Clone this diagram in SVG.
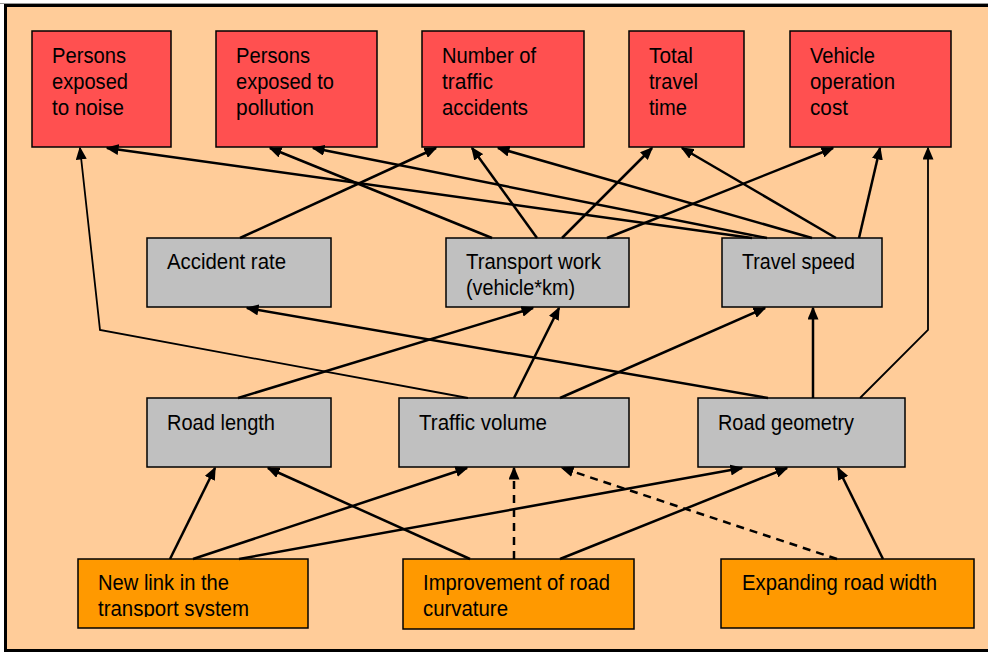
<svg xmlns="http://www.w3.org/2000/svg" width="988" height="652" viewBox="0 0 988 652">
<style>
.red{fill:#FF5050;stroke:#000;stroke-width:1.5}
.gray{fill:#C0C0C0;stroke:#000;stroke-width:1.5}
.orange{fill:#FF9900;stroke:#000;stroke-width:1.5}
text{font-family:"Liberation Sans",Arial,sans-serif;font-size:22px;fill:#000}
.c{fill:none;stroke:#000;stroke-width:2.5;marker-end:url(#ah)}
.t{fill:none;stroke:#000;stroke-width:1.8;marker-end:url(#ah)}
.d{stroke-dasharray:8 6}
</style>
<defs>
<marker id="ah" markerUnits="userSpaceOnUse" markerWidth="13" markerHeight="11" refX="11.5" refY="5.5" orient="auto">
<path d="M0,0 L13,5.5 L0,11 z" fill="#000"/>
</marker>
<clipPath id="clipNL"><rect x="78" y="559" width="230" height="58"/></clipPath>
</defs>
<rect x="0" y="0" width="988" height="652" fill="#fff"/>
<line x1="0" y1="3.5" x2="988" y2="3.5" stroke="#999" stroke-width="1"/>
<rect x="5.5" y="5.5" width="1000" height="645" fill="#FFCC99" stroke="#000" stroke-width="3"/>

<g id="n-noise"><rect class="red" x="32" y="31" width="139" height="116"/>
<text x="52" y="63" textLength="74" lengthAdjust="spacingAndGlyphs">Persons</text>
<text x="52" y="89" textLength="76" lengthAdjust="spacingAndGlyphs">exposed</text>
<text x="52" y="115" textLength="72" lengthAdjust="spacingAndGlyphs">to noise</text></g>
<g id="n-pollution"><rect class="red" x="216" y="31" width="161" height="116"/>
<text x="236" y="63" textLength="74" lengthAdjust="spacingAndGlyphs">Persons</text>
<text x="236" y="89" textLength="98" lengthAdjust="spacingAndGlyphs">exposed to</text>
<text x="236" y="115" textLength="78" lengthAdjust="spacingAndGlyphs">pollution</text></g>
<g id="n-accidents"><rect class="red" x="422" y="31" width="162" height="116"/>
<text x="442" y="63" textLength="94" lengthAdjust="spacingAndGlyphs">Number of</text>
<text x="442" y="89" textLength="51" lengthAdjust="spacingAndGlyphs">traffic</text>
<text x="442" y="115" textLength="86" lengthAdjust="spacingAndGlyphs">accidents</text></g>
<g id="n-time"><rect class="red" x="629" y="31" width="115" height="116"/>
<text x="649" y="63" textLength="44" lengthAdjust="spacingAndGlyphs">Total</text>
<text x="649" y="89" textLength="49" lengthAdjust="spacingAndGlyphs">travel</text>
<text x="649" y="115" textLength="38" lengthAdjust="spacingAndGlyphs">time</text></g>
<g id="n-cost"><rect class="red" x="790" y="31" width="161" height="116"/>
<text x="810" y="63" textLength="65" lengthAdjust="spacingAndGlyphs">Vehicle</text>
<text x="810" y="89" textLength="85" lengthAdjust="spacingAndGlyphs">operation</text>
<text x="810" y="115" textLength="38" lengthAdjust="spacingAndGlyphs">cost</text></g>

<g id="n-accrate"><rect class="gray" x="147" y="238" width="184" height="69"/>
<text x="167" y="269" textLength="119" lengthAdjust="spacingAndGlyphs">Accident rate</text></g>
<g id="n-work"><rect class="gray" x="446" y="238" width="183" height="69"/>
<text x="466" y="269" textLength="135" lengthAdjust="spacingAndGlyphs">Transport work</text>
<text x="466" y="295" textLength="109" lengthAdjust="spacingAndGlyphs">(vehicle*km)</text></g>
<g id="n-speed"><rect class="gray" x="722" y="238" width="160" height="69"/>
<text x="742" y="269" textLength="113" lengthAdjust="spacingAndGlyphs">Travel speed</text></g>

<g id="n-length"><rect class="gray" x="147" y="398" width="184" height="69"/>
<text x="167" y="430" textLength="108" lengthAdjust="spacingAndGlyphs">Road length</text></g>
<g id="n-volume"><rect class="gray" x="399" y="398" width="230" height="69"/>
<text x="419" y="430" textLength="128" lengthAdjust="spacingAndGlyphs">Traffic volume</text></g>
<g id="n-geometry"><rect class="gray" x="698" y="398" width="207" height="69"/>
<text x="718" y="430" textLength="136" lengthAdjust="spacingAndGlyphs">Road geometry</text></g>

<g id="n-newlink"><rect class="orange" x="78" y="559" width="230" height="69"/>
<g clip-path="url(#clipNL)">
<text x="98" y="590" textLength="131" lengthAdjust="spacingAndGlyphs">New link in the</text>
<text x="98" y="616" textLength="151" lengthAdjust="spacingAndGlyphs">transport system</text></g></g>
<g id="n-curvature"><rect class="orange" x="403" y="559" width="231" height="70"/>
<text x="423" y="590" textLength="187" lengthAdjust="spacingAndGlyphs">Improvement of road</text>
<text x="423" y="616" textLength="85" lengthAdjust="spacingAndGlyphs">curvature</text></g>
<g id="n-width"><rect class="orange" x="721" y="559" width="253" height="69"/>
<text x="742" y="590" textLength="195" lengthAdjust="spacingAndGlyphs">Expanding road width</text></g>

<g id="connectors">
<line class="c" x1="170" y1="559" x2="215" y2="468"/>
<line class="c" x1="193" y1="559" x2="467" y2="468"/>
<line class="c" x1="239" y1="559" x2="742" y2="468"/>
<line class="c" x1="470" y1="559" x2="268" y2="468"/>
<line class="c d" x1="514" y1="559" x2="514" y2="468"/>
<line class="c" x1="560" y1="559" x2="787" y2="468"/>
<line class="c d" x1="837" y1="559" x2="562" y2="468"/>
<line class="c" x1="883" y1="559" x2="838" y2="468"/>

<line class="c" x1="238" y1="398" x2="533" y2="308"/>
<line class="c" x1="514" y1="398" x2="559" y2="308"/>
<line class="c" x1="560" y1="398" x2="765" y2="308"/>
<polyline class="t" points="468,398 100,330 80,148"/>
<line class="c" x1="768" y1="398" x2="247" y2="308"/>
<line class="c" x1="813" y1="398" x2="813" y2="308"/>
<polyline class="t" points="860,398 928,330 928,148"/>

<line class="c" x1="240" y1="238" x2="436" y2="148"/>
<line class="c" x1="492" y1="238" x2="270" y2="148"/>
<line class="c" x1="537" y1="238" x2="472" y2="148"/>
<line class="c" x1="562" y1="238" x2="652" y2="148"/>
<line class="c" x1="607" y1="238" x2="833" y2="148"/>
<line class="c" x1="752" y1="238" x2="107" y2="148"/>
<line class="c" x1="767" y1="238" x2="313" y2="148"/>
<line class="c" x1="812" y1="238" x2="498" y2="148"/>
<line class="c" x1="836" y1="238" x2="682" y2="148"/>
<line class="c" x1="859" y1="238" x2="880" y2="148"/>
</g>
</svg>
